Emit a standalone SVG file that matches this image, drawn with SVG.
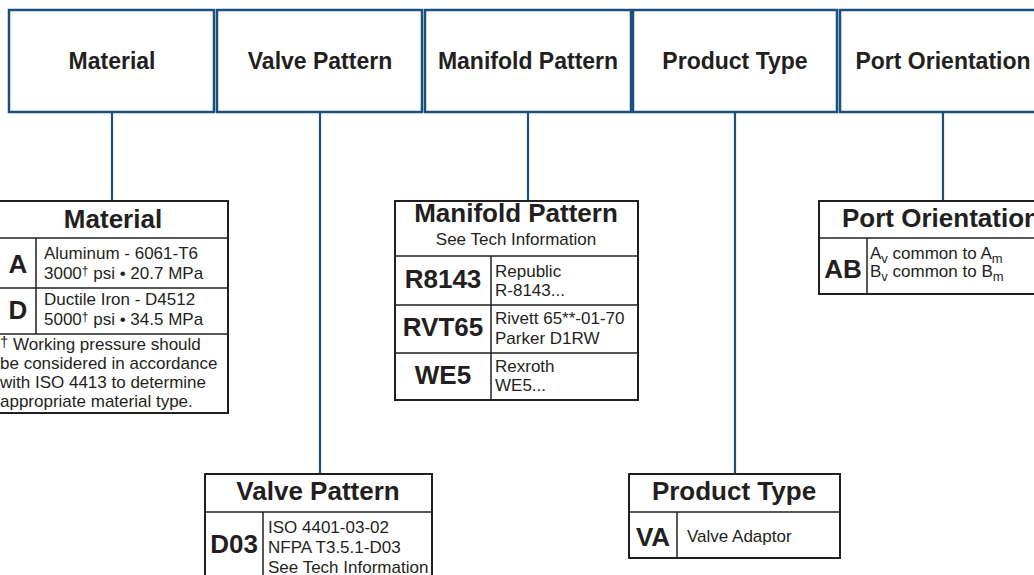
<svg xmlns="http://www.w3.org/2000/svg" width="1034" height="575" viewBox="0 0 1034 575">
<style>
.top{fill:#fff;stroke:#1b4f7e;stroke-width:2.5}
.tbl{fill:#fff;stroke:#231f20;stroke-width:2}
.ln{stroke:#231f20;stroke-width:1.5;fill:none}
.con{stroke:#1b4f7e;stroke-width:2.2;fill:none}
text{font-family:"Liberation Sans",Arial,sans-serif;fill:#231f20}
.mid{text-anchor:middle}
.h{font-size:23px;font-weight:bold}
.th{font-size:26px;font-weight:bold}
.code{font-size:26px;font-weight:bold}
.s{font-size:17px}
.sup{font-size:12px}
.sub{font-size:13px}
</style>
<rect width="1034" height="575" fill="#fff"/>
<g id="connectors">
<line class="con" x1="112" y1="112" x2="112" y2="201"/>
<line class="con" x1="320" y1="112" x2="320" y2="474"/>
<line class="con" x1="528" y1="112" x2="528" y2="201"/>
<line class="con" x1="735" y1="112" x2="735" y2="474"/>
<line class="con" x1="943" y1="112" x2="943" y2="201"/>
</g>
<g id="top-material"><rect class="top" x="9" y="10" width="205" height="102"/><text class="h mid" x="112" y="69">Material</text></g>
<g id="top-valve"><rect class="top" x="217" y="10" width="205" height="102"/><text class="h mid" x="320" y="69">Valve Pattern</text></g>
<g id="top-manifold"><rect class="top" x="425" y="10" width="206" height="102"/><text class="h mid" x="528" y="69">Manifold Pattern</text></g>
<g id="top-product"><rect class="top" x="633" y="10" width="204" height="102"/><text class="h mid" x="735" y="69">Product Type</text></g>
<g id="top-port"><rect class="top" x="840" y="10" width="206" height="102"/><text class="h mid" x="943" y="69">Port Orientation</text></g>

<g id="material-table">
<rect class="tbl" x="-2" y="201" width="230" height="212"/>
<line class="ln" x1="-2" y1="238" x2="228" y2="238"/>
<line class="ln" x1="-2" y1="288" x2="228" y2="288"/>
<line class="ln" x1="-2" y1="334" x2="228" y2="334"/>
<line class="ln" x1="36" y1="238" x2="36" y2="334"/>
<text class="th mid" x="113" y="228">Material</text>
<text class="code mid" x="18" y="273">A</text>
<text class="code mid" x="18" y="319">D</text>
<text class="s" x="44" y="259">Aluminum - 6061-T6</text>
<text class="s" x="44" y="279">3000<tspan class="sup" dy="-4">†</tspan><tspan dy="4"> psi • 20.7 MPa</tspan></text>
<text class="s" x="44" y="305">Ductile Iron - D4512</text>
<text class="s" x="44" y="325">5000<tspan class="sup" dy="-4">†</tspan><tspan dy="4"> psi • 34.5 MPa</tspan></text>
<text class="s" x="0" y="350"><tspan font-size="15" dy="-3">†</tspan><tspan dy="3"> Working pressure should</tspan></text>
<text class="s" x="0" y="369">be considered in accordance</text>
<text class="s" x="0" y="388">with ISO 4413 to determine</text>
<text class="s" x="0" y="407">appropriate material type.</text>
</g>

<g id="manifold-table">
<rect class="tbl" x="395" y="201" width="243" height="199"/>
<line class="ln" x1="395" y1="256" x2="638" y2="256"/>
<line class="ln" x1="395" y1="305" x2="638" y2="305"/>
<line class="ln" x1="395" y1="353" x2="638" y2="353"/>
<line class="ln" x1="491" y1="256" x2="491" y2="400"/>
<text class="th mid" x="516" y="222">Manifold Pattern</text>
<text class="s mid" x="516" y="245">See Tech Information</text>
<text class="code mid" x="443" y="288">R8143</text>
<text class="code mid" x="443" y="336">RVT65</text>
<text class="code mid" x="443" y="384">WE5</text>
<text class="s" x="495" y="277">Republic</text>
<text class="s" x="495" y="296">R-8143...</text>
<text class="s" x="495" y="324">Rivett 65**-01-70</text>
<text class="s" x="495" y="344">Parker D1RW</text>
<text class="s" x="495" y="372">Rexroth</text>
<text class="s" x="495" y="391">WE5...</text>
</g>

<g id="port-table">
<rect class="tbl" x="819" y="201" width="230" height="93"/>
<line class="ln" x1="819" y1="238" x2="1049" y2="238"/>
<line class="ln" x1="867" y1="238" x2="867" y2="294"/>
<text class="th" x="842" y="227">Port Orientation</text>
<text class="code mid" x="843" y="278">AB</text>
<text class="s" x="870" y="259">A<tspan class="sub" dy="4">v</tspan><tspan dy="-4"> common to A</tspan><tspan class="sub" dy="4">m</tspan></text>
<text class="s" x="870" y="277">B<tspan class="sub" dy="4">v</tspan><tspan dy="-4"> common to B</tspan><tspan class="sub" dy="4">m</tspan></text>
</g>

<g id="valve-table">
<rect class="tbl" x="205" y="474" width="227" height="110"/>
<line class="ln" x1="205" y1="512" x2="432" y2="512"/>
<line class="ln" x1="263" y1="512" x2="263" y2="584"/>
<text class="th mid" x="318" y="500">Valve Pattern</text>
<text class="code mid" x="234" y="553">D03</text>
<text class="s" x="268" y="533">ISO 4401-03-02</text>
<text class="s" x="268" y="553">NFPA T3.5.1-D03</text>
<text class="s" x="268" y="573">See Tech Information</text>
</g>

<g id="product-table">
<rect class="tbl" x="629" y="474" width="211" height="84"/>
<line class="ln" x1="629" y1="512" x2="840" y2="512"/>
<line class="ln" x1="677" y1="512" x2="677" y2="558"/>
<text class="th mid" x="734" y="500">Product Type</text>
<text class="code mid" x="653" y="546">VA</text>
<text class="s" x="687" y="542">Valve Adaptor</text>
</g>
</svg>
